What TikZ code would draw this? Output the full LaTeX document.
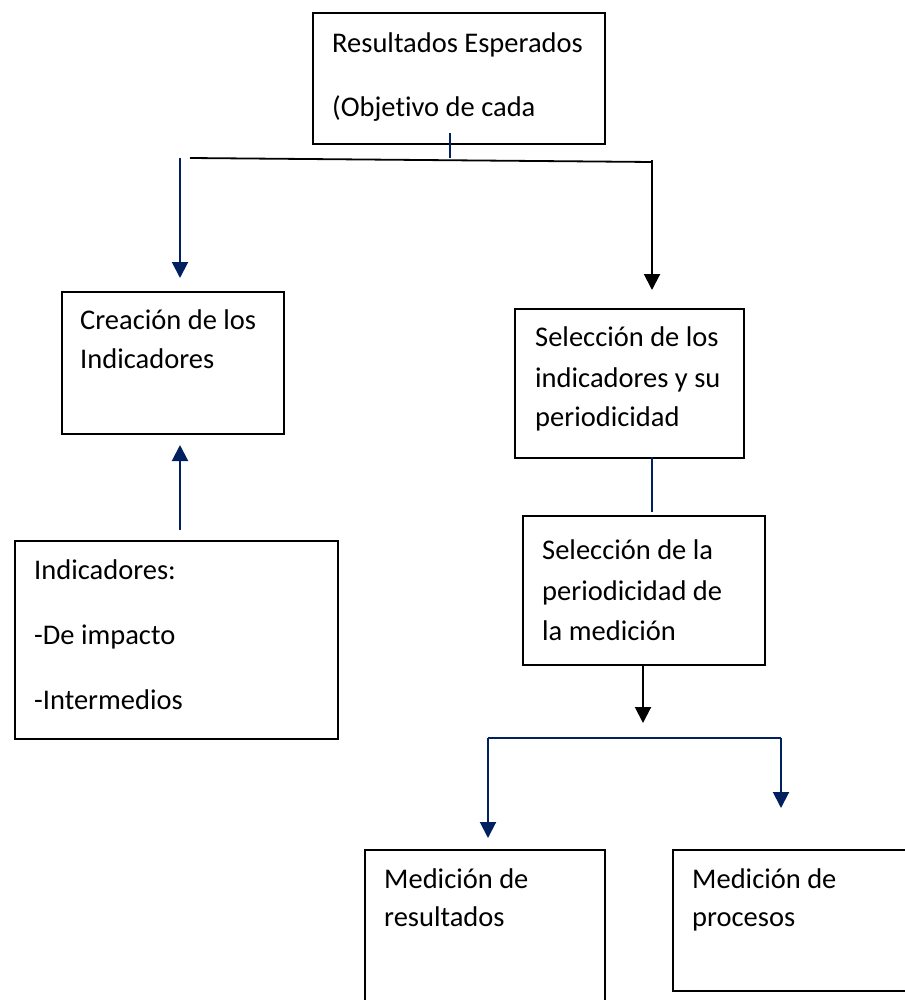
\documentclass[tikz,border=0pt]{standalone}
\usepackage{fontspec}
\setmainfont{Carlito}[Ligatures=NoCommon]
\usetikzlibrary{arrows.meta}
\definecolor{navy}{RGB}{0,32,96}
\begin{document}
\begin{tikzpicture}[x=1pt,y=-1pt,
  box/.style={draw, line width=1.8pt, inner sep=0pt, anchor=north west},
  txt/.style={anchor=mid west, inner sep=0pt, font=\fontsize{28.5}{34}\selectfont},
  ln/.style={line width=2pt},
  tip/.style={-{Triangle[width=16pt,length=16pt]}}]
\useasboundingbox (0,0) rectangle (904,1000);
\fill[white] (0,0) rectangle (904,1000);
% boxes
\node[box, minimum width=292pt, minimum height=131pt] (res) at (312,12) {};
\node[box, minimum width=222pt, minimum height=142pt] (cre) at (61,291) {};
\node[box, minimum width=323pt, minimum height=198pt] (ind) at (14,540) {};
\node[box, minimum width=229pt, minimum height=149pt] (sel) at (514,308) {};
\node[box, minimum width=242pt, minimum height=149pt] (per) at (522,515) {};
\node[box, minimum width=240pt, minimum height=160pt] (mres) at (364,849) {};
\node[box, minimum width=250pt, minimum height=141pt] (mpro) at (672,849) {};
% texts
\node[txt] (res1) at (332,50) {Resultados Esperados};
\node[txt] (res2) at (332,114) {(Objetivo de cada};
\node[txt] (cre1) at (80,327) {Creación de los};
\node[txt] (cre2) at (80,366) {Indicadores};
\node[txt] (ind1) at (34,577) {Indicadores:};
\node[txt] (ind2) at (34,642) {-De impacto};
\node[txt] (ind3) at (34,707) {-Intermedios};
\node[txt] (sel1) at (535,344) {Selección de los};
\node[txt] (sel2) at (535,385) {indicadores y su};
\node[txt] (sel3) at (535,424) {periodicidad};
\node[txt] (per1) at (542,557) {Selección de la};
\node[txt] (per2) at (542,598) {periodicidad de};
\node[txt] (per3) at (542,638) {la medición};
\node[txt] (mres1) at (384,886) {Medición de};
\node[txt] (mres2) at (384,924) {resultados};
\node[txt] (mpro1) at (692,886) {Medición de};
\node[txt] (mpro2) at (692,924) {procesos};
% connector points
\coordinate (tickA) at (450,133);
\coordinate (tickB) at (450,158);
\coordinate (hL) at (190,158);
\coordinate (hR) at (652,162);
\coordinate (rTop) at (652,160);
\coordinate (rTip) at (652,290);
\coordinate (lTop) at (180,158);
\coordinate (lTip) at (180,278);
\coordinate (uBot) at (180,530);
\coordinate (uTip) at (180,445);
\coordinate (sA) at (652,457);
\coordinate (sB) at (652,512);
\coordinate (pA) at (643,664);
\coordinate (pTip) at (643,723);
\coordinate (bL) at (488,738);
\coordinate (bR) at (781,738);
\coordinate (bLTip) at (488,838);
\coordinate (bRTip) at (781,808);
% connectors
\draw[navy,ln] (tickA) -- (tickB);
\draw[black,line width=1.8pt] (hL) -- (hR);
\draw[black,ln,tip] (rTop) -- (rTip);
\draw[navy,ln,tip] (lTop) -- (lTip);
\draw[navy,ln,tip] (uBot) -- (uTip);
\draw[navy,ln] (sA) -- (sB);
\draw[black,ln,tip] (pA) -- (pTip);
\draw[navy,ln,tip] (bL) -- (bLTip);
\draw[navy,ln] (bL) -- (bR);
\draw[navy,ln,tip] (bR) -- (bRTip);
\end{tikzpicture}
\end{document}
